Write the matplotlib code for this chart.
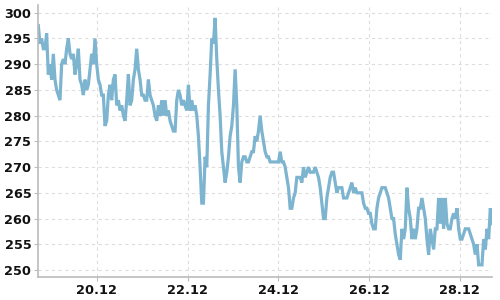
import numpy as np
import pandas as pd
import matplotlib
matplotlib.use("Agg")
from matplotlib import pyplot as plt
import matplotlib.dates as mdates

# price readings, evenly spaced between start and end
start = "2023-12-18 17:00"
end = "2023-12-28 17:00"

vals_a = [297.5, 294, 295, 293, 293, 296, 288, 290, 287, 292, 287, 285, 284, 283,
          290, 291, 290, 293, 295, 292, 291, 292, 288, 290, 293, 287, 286, 284,
          287, 285, 286, 289, 292, 290, 295, 290, 287, 286, 284, 284, 278, 279,
          284, 286, 283, 287, 288, 282, 283, 281, 282, 280, 279, 283, 288, 282,
          283, 287, 289, 293, 289, 287, 284, 284, 283, 283, 287, 284, 283, 282,
          280, 279, 282, 280, 283, 280, 283, 280, 281, 279]
vals_b = [278, 277, 277, 283, 285, 284, 282, 283, 282, 281, 286, 281, 283, 281,
          282, 280, 276, 270, 263, 263, 272, 270, 282, 288, 295, 294, 299, 291,
          285, 280, 273, 270, 267, 269, 272, 276, 278, 282, 289, 282, 270, 267,
          271, 272, 272, 271, 271, 272, 273, 273, 276, 275, 277, 280, 277, 275,
          273, 272, 272, 271, 271, 271, 271, 271, 271, 273, 271, 271, 270, 268,
          266, 262, 262, 264, 265, 268, 268, 268, 267, 270, 268, 269, 270, 269,
          269, 269, 270, 269, 268, 266, 263, 260, 260, 264, 266]
vals_c = [268, 269, 269, 267, 265, 266, 266, 266, 264, 264, 264, 265, 266, 267,
          265, 266, 265, 265, 265, 265, 263, 262, 262, 261, 261, 259, 258, 258,
          262, 264, 265, 266, 266, 266, 265, 264, 262, 260, 260, 257, 255, 253,
          252, 258, 256, 258, 266, 262, 260, 256, 258, 256, 258, 262, 262, 264,
          262, 260, 256, 253, 258, 256, 254, 258, 258, 264, 259, 264, 258, 264,
          259, 258, 258, 260, 261, 260, 262, 258, 256, 256, 257, 258, 258, 258,
          257, 256, 255, 253, 255, 251, 251, 251, 256, 254, 258, 256, 262, 259]

values = np.array(vals_a + vals_b + vals_c)
times = pd.date_range(start, end, periods=len(values))

line_color = "#7db4cf"
grid_color = "#dddddd"
spine_color = "#bbbbbb"

fig = plt.figure(figsize=(5, 3), dpi=100)
ax = fig.add_axes([0.0766, 0.0777, 0.9074, 0.9056])

ax.plot(times, values, color=line_color, lw=2.3, solid_joinstyle="miter")

ax.set_xlim(pd.Timestamp(start), pd.Timestamp(end))
ax.set_ylim(248.7, 301.5)
ax.set_yticks(np.arange(250, 301, 5))

ax.xaxis.set_major_locator(mdates.DayLocator(bymonthday=[20, 22, 24, 26, 28]))
ax.xaxis.set_major_formatter(mdates.DateFormatter("%d.%m"))

ax.grid(True, color=grid_color, ls=(0, (3, 3)), lw=0.8)
ax.set_axisbelow(True)

for s in ["top", "right"]:
    ax.spines[s].set_visible(False)
for s in ["left", "bottom"]:
    ax.spines[s].set_color(spine_color)
    ax.spines[s].set_linewidth(1.2)

ax.tick_params(length=3, color=spine_color, labelsize=9.3, pad=2, labelcolor="#111111")
for lab in ax.get_xticklabels() + ax.get_yticklabels():
    lab.set_fontweight("bold")

fig.savefig("out.png", dpi=100)
